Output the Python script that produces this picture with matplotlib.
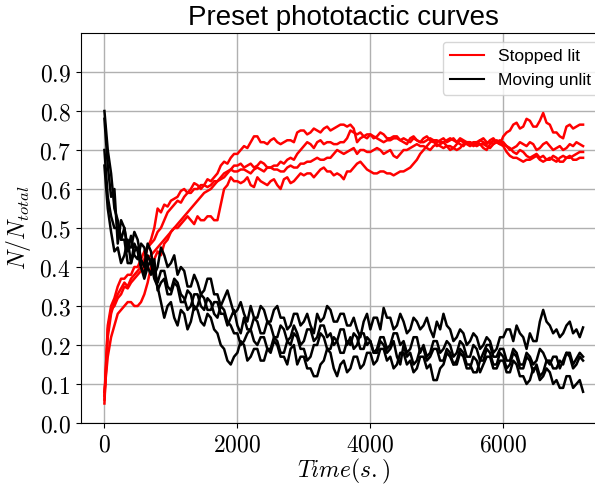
import matplotlib
matplotlib.use('Agg')
import matplotlib.pyplot as plt
from matplotlib.lines import Line2D
from matplotlib.ticker import FuncFormatter

# sample times (s), one reading every 50 s
time = list(range(0, 7201, 50))

# fraction of cells, "Stopped lit" runs (one row = 500 s)
lit_1 = [0.06, 0.22, 0.28, 0.31, 0.33, 0.345, 0.36, 0.35, 0.37, 0.38,
         0.39, 0.40, 0.42, 0.45, 0.47, 0.50, 0.55, 0.54, 0.56, 0.555,
         0.57, 0.575, 0.58, 0.595, 0.60, 0.59, 0.60, 0.615, 0.61, 0.60,
         0.61, 0.625, 0.62, 0.63, 0.64, 0.66, 0.67, 0.665, 0.68, 0.69,
         0.69, 0.70, 0.71, 0.705, 0.72, 0.735, 0.735, 0.72, 0.72, 0.715,
         0.725, 0.73, 0.72, 0.715, 0.72, 0.725, 0.725, 0.72, 0.745, 0.75,
         0.75, 0.74, 0.745, 0.755, 0.75, 0.745, 0.755, 0.76, 0.75, 0.755,
         0.76, 0.765, 0.765, 0.76, 0.765, 0.755, 0.72, 0.73, 0.735, 0.74,
         0.74, 0.73, 0.735, 0.745, 0.74, 0.73, 0.73, 0.735, 0.735, 0.725,
         0.73, 0.725, 0.72, 0.73, 0.725, 0.72, 0.73, 0.735, 0.725, 0.72,
         0.72, 0.725, 0.73, 0.72, 0.725, 0.73, 0.72, 0.715, 0.71, 0.72,
         0.72, 0.71, 0.715, 0.725, 0.72, 0.715, 0.725, 0.73, 0.72, 0.715,
         0.735, 0.745, 0.75, 0.765, 0.77, 0.755, 0.76, 0.78, 0.775, 0.76,
         0.76, 0.775, 0.795, 0.77, 0.765, 0.745, 0.745, 0.735, 0.73, 0.76,
         0.765, 0.755, 0.76, 0.765, 0.765]
lit_2 = [0.05, 0.25, 0.30, 0.32, 0.35, 0.37, 0.37, 0.38, 0.38, 0.40,
         0.40, 0.42, 0.44, 0.45, 0.46, 0.47, 0.49, 0.50, 0.52, 0.54,
         0.55, 0.56, 0.57, 0.565, 0.58, 0.59, 0.59, 0.60, 0.60, 0.61,
         0.61, 0.605, 0.61, 0.62, 0.62, 0.63, 0.64, 0.645, 0.65, 0.66,
         0.66, 0.665, 0.655, 0.66, 0.665, 0.655, 0.66, 0.67, 0.665, 0.655,
         0.655, 0.66, 0.66, 0.67, 0.665, 0.675, 0.68, 0.675, 0.69, 0.70,
         0.71, 0.72, 0.715, 0.705, 0.72, 0.725, 0.715, 0.72, 0.72, 0.715,
         0.715, 0.72, 0.72, 0.73, 0.75, 0.745, 0.74, 0.745, 0.735, 0.73,
         0.74, 0.735, 0.73, 0.725, 0.72, 0.725, 0.725, 0.73, 0.73, 0.725,
         0.72, 0.715, 0.73, 0.735, 0.725, 0.72, 0.72, 0.725, 0.73, 0.725,
         0.71, 0.715, 0.72, 0.71, 0.70, 0.705, 0.715, 0.725, 0.72, 0.715,
         0.71, 0.715, 0.72, 0.715, 0.705, 0.70, 0.715, 0.725, 0.72, 0.725,
         0.715, 0.71, 0.70, 0.705, 0.71, 0.72, 0.715, 0.71, 0.72, 0.715,
         0.70, 0.705, 0.715, 0.72, 0.71, 0.70, 0.705, 0.71, 0.70, 0.705,
         0.715, 0.71, 0.72, 0.715, 0.71]
lit_3 = [0.08, 0.17, 0.22, 0.25, 0.28, 0.29, 0.30, 0.31, 0.31, 0.30,
         0.30, 0.31, 0.33, 0.36, 0.40, 0.42, 0.44, 0.43, 0.46, 0.47,
         0.49, 0.50, 0.50, 0.51, 0.52, 0.53, 0.52, 0.51, 0.53, 0.52,
         0.52, 0.53, 0.53, 0.52, 0.52, 0.56, 0.60, 0.61, 0.63, 0.62,
         0.62, 0.615, 0.62, 0.63, 0.61, 0.605, 0.63, 0.62, 0.615, 0.61,
         0.62, 0.625, 0.61, 0.60, 0.625, 0.63, 0.615, 0.62, 0.63, 0.64,
         0.635, 0.64, 0.64, 0.63, 0.64, 0.65, 0.655, 0.645, 0.645, 0.635,
         0.64, 0.635, 0.625, 0.645, 0.645, 0.655, 0.665, 0.67, 0.66, 0.65,
         0.645, 0.64, 0.64, 0.645, 0.645, 0.64, 0.64, 0.635, 0.64, 0.645,
         0.645, 0.65, 0.655, 0.665, 0.675, 0.69, 0.70, 0.71, 0.72, 0.725,
         0.725, 0.72, 0.72, 0.725, 0.73, 0.725, 0.72, 0.73, 0.725, 0.72,
         0.715, 0.72, 0.72, 0.725, 0.73, 0.72, 0.72, 0.715, 0.725, 0.72,
         0.72, 0.71, 0.705, 0.695, 0.69, 0.70, 0.695, 0.685, 0.68, 0.685,
         0.69, 0.68, 0.685, 0.675, 0.675, 0.685, 0.68, 0.67, 0.67, 0.68,
         0.685, 0.675, 0.675, 0.68, 0.68]
lit_4 = [0.07, 0.24, 0.29, 0.30, 0.32, 0.33, 0.35, 0.345, 0.36, 0.37,
         0.38, 0.39, 0.40, 0.42, 0.43, 0.44, 0.45, 0.46, 0.47, 0.48,
         0.49, 0.50, 0.51, 0.52, 0.53, 0.54, 0.55, 0.56, 0.57, 0.58,
         0.59, 0.595, 0.60, 0.61, 0.62, 0.625, 0.63, 0.64, 0.65, 0.645,
         0.645, 0.65, 0.65, 0.645, 0.64, 0.65, 0.655, 0.65, 0.645, 0.655,
         0.655, 0.65, 0.65, 0.645, 0.645, 0.655, 0.66, 0.655, 0.655, 0.665,
         0.665, 0.67, 0.67, 0.675, 0.68, 0.675, 0.675, 0.68, 0.68, 0.69,
         0.70, 0.695, 0.69, 0.695, 0.70, 0.705, 0.69, 0.70, 0.70, 0.695,
         0.695, 0.70, 0.705, 0.70, 0.69, 0.695, 0.70, 0.685, 0.68, 0.69,
         0.70, 0.70, 0.705, 0.71, 0.715, 0.71, 0.71, 0.705, 0.70, 0.71,
         0.715, 0.71, 0.705, 0.71, 0.71, 0.705, 0.70, 0.705, 0.715, 0.72,
         0.72, 0.715, 0.71, 0.715, 0.715, 0.71, 0.705, 0.715, 0.72, 0.715,
         0.71, 0.695, 0.685, 0.68, 0.68, 0.675, 0.67, 0.675, 0.675, 0.68,
         0.685, 0.675, 0.67, 0.675, 0.68, 0.675, 0.67, 0.68, 0.685, 0.68,
         0.68, 0.685, 0.69, 0.695, 0.695]

# fraction of cells, "Moving unlit" runs
unlit_1 = [0.80, 0.70, 0.64, 0.55, 0.52, 0.47, 0.50, 0.45, 0.45, 0.49,
           0.47, 0.42, 0.40, 0.46, 0.44, 0.38, 0.40, 0.45, 0.43, 0.40,
           0.41, 0.43, 0.38, 0.40, 0.39, 0.35, 0.35, 0.38, 0.36, 0.33,
           0.34, 0.37, 0.37, 0.33, 0.33, 0.30, 0.32, 0.34, 0.31, 0.28,
           0.29, 0.31, 0.28, 0.26, 0.30, 0.27, 0.27, 0.30, 0.29, 0.26,
           0.26, 0.29, 0.30, 0.27, 0.27, 0.24, 0.25, 0.28, 0.28, 0.25,
           0.26, 0.28, 0.25, 0.23, 0.28, 0.26, 0.27, 0.30, 0.29, 0.26,
           0.26, 0.28, 0.28, 0.25, 0.25, 0.27, 0.24, 0.22, 0.26, 0.28,
           0.24, 0.27, 0.27, 0.24, 0.295, 0.27, 0.27, 0.24, 0.25, 0.28,
           0.26, 0.23, 0.24, 0.27, 0.26, 0.24, 0.25, 0.27, 0.24, 0.22,
           0.26, 0.24, 0.28, 0.25, 0.24, 0.21, 0.22, 0.24, 0.23, 0.20,
           0.21, 0.23, 0.22, 0.19, 0.20, 0.22, 0.21, 0.18, 0.19, 0.22,
           0.22, 0.24, 0.24, 0.21, 0.25, 0.23, 0.22, 0.19, 0.23, 0.21,
           0.21, 0.26, 0.29, 0.26, 0.25, 0.23, 0.24, 0.22, 0.23, 0.25,
           0.26, 0.23, 0.24, 0.22, 0.245]
unlit_2 = [0.78, 0.66, 0.58, 0.60, 0.46, 0.52, 0.50, 0.44, 0.48, 0.43,
           0.42, 0.46, 0.45, 0.40, 0.38, 0.42, 0.34, 0.36, 0.37, 0.33,
           0.33, 0.36, 0.35, 0.31, 0.31, 0.34, 0.33, 0.29, 0.30, 0.33,
           0.32, 0.29, 0.29, 0.31, 0.31, 0.28, 0.28, 0.25, 0.27, 0.29,
           0.25, 0.23, 0.27, 0.24, 0.24, 0.27, 0.26, 0.23, 0.23, 0.26,
           0.25, 0.22, 0.22, 0.25, 0.24, 0.21, 0.22, 0.25, 0.23, 0.20,
           0.21, 0.24, 0.24, 0.21, 0.22, 0.25, 0.25, 0.22, 0.23, 0.20,
           0.21, 0.24, 0.24, 0.20, 0.22, 0.19, 0.20, 0.23, 0.23, 0.20,
           0.21, 0.18, 0.19, 0.22, 0.22, 0.19, 0.20, 0.23, 0.23, 0.20,
           0.21, 0.18, 0.19, 0.22, 0.22, 0.18, 0.20, 0.17, 0.18, 0.21,
           0.21, 0.18, 0.19, 0.21, 0.20, 0.17, 0.18, 0.21, 0.20, 0.17,
           0.17, 0.20, 0.19, 0.16, 0.18, 0.20, 0.20, 0.17, 0.17, 0.19,
           0.19, 0.16, 0.16, 0.19, 0.18, 0.15, 0.15, 0.18, 0.17, 0.15,
           0.16, 0.19, 0.18, 0.16, 0.15, 0.17, 0.17, 0.14, 0.16, 0.18,
           0.18, 0.15, 0.165, 0.18, 0.17]
unlit_3 = [0.66, 0.55, 0.49, 0.44, 0.45, 0.41, 0.43, 0.47, 0.41, 0.46,
           0.44, 0.40, 0.38, 0.43, 0.41, 0.37, 0.35, 0.31, 0.27, 0.30,
           0.31, 0.27, 0.25, 0.29, 0.28, 0.24, 0.26, 0.30, 0.29, 0.26,
           0.25, 0.28, 0.27, 0.24, 0.23, 0.20, 0.19, 0.16, 0.15, 0.17,
           0.18, 0.21, 0.20, 0.16, 0.17, 0.19, 0.19, 0.16, 0.16, 0.19,
           0.18, 0.21, 0.20, 0.17, 0.17, 0.15, 0.19, 0.20, 0.15, 0.17,
           0.17, 0.14, 0.14, 0.12, 0.12, 0.15, 0.16, 0.19, 0.18, 0.14,
           0.12, 0.15, 0.16, 0.13, 0.14, 0.17, 0.17, 0.14, 0.15, 0.18,
           0.18, 0.15, 0.16, 0.19, 0.19, 0.16, 0.17, 0.14, 0.15, 0.18,
           0.18, 0.15, 0.16, 0.13, 0.14, 0.17, 0.17, 0.14, 0.15, 0.11,
           0.11, 0.14, 0.15, 0.18, 0.17, 0.15, 0.16, 0.19, 0.18, 0.15,
           0.15, 0.13, 0.13, 0.16, 0.16, 0.19, 0.18, 0.15, 0.15, 0.18,
           0.17, 0.14, 0.15, 0.18, 0.17, 0.14, 0.14, 0.17, 0.16, 0.13,
           0.15, 0.12, 0.13, 0.16, 0.16, 0.14, 0.14, 0.16, 0.15, 0.18,
           0.17, 0.14, 0.15, 0.17, 0.16]
unlit_4 = [0.70, 0.58, 0.53, 0.50, 0.50, 0.47, 0.47, 0.41, 0.41, 0.44,
           0.45, 0.40, 0.37, 0.40, 0.42, 0.39, 0.36, 0.39, 0.39, 0.35,
           0.34, 0.37, 0.36, 0.33, 0.32, 0.29, 0.30, 0.33, 0.33, 0.30,
           0.29, 0.32, 0.31, 0.28, 0.27, 0.30, 0.29, 0.26, 0.25, 0.23,
           0.23, 0.20, 0.21, 0.23, 0.24, 0.21, 0.20, 0.22, 0.22, 0.19,
           0.19, 0.22, 0.21, 0.18, 0.18, 0.21, 0.20, 0.23, 0.22, 0.19,
           0.19, 0.16, 0.17, 0.20, 0.20, 0.23, 0.22, 0.19, 0.19, 0.22,
           0.21, 0.18, 0.18, 0.21, 0.20, 0.23, 0.22, 0.19, 0.19, 0.22,
           0.21, 0.18, 0.18, 0.21, 0.20, 0.18, 0.19, 0.21, 0.17, 0.15,
           0.20, 0.17, 0.18, 0.15, 0.16, 0.19, 0.19, 0.16, 0.17, 0.19,
           0.19, 0.16, 0.16, 0.19, 0.18, 0.15, 0.15, 0.18, 0.17, 0.14,
           0.14, 0.17, 0.16, 0.13, 0.15, 0.17, 0.17, 0.14, 0.14, 0.16,
           0.16, 0.13, 0.13, 0.16, 0.15, 0.12, 0.12, 0.10, 0.11, 0.14,
           0.14, 0.11, 0.12, 0.14, 0.13, 0.10, 0.11, 0.09, 0.09, 0.12,
           0.12, 0.09, 0.10, 0.11, 0.08]

lit_runs = [lit_1, lit_2, lit_3, lit_4]
unlit_runs = [unlit_1, unlit_2, unlit_3, unlit_4]

plt.rcParams['mathtext.fontset'] = 'cm'
sans = 'Liberation Sans'

fig = plt.figure(figsize=(5.95, 4.87), dpi=100)
# axes runs a bit past the right edge, as in the cropped original
ax = fig.add_axes([80.5 / 595, 64 / 487, 526.5 / 595, 390 / 487])

for run in lit_runs:
    ax.plot(time, run, color='red', lw=1.8)
for run in unlit_runs:
    ax.plot(time, run, color='black', lw=1.8)

ax.set_ylim(0, 1.0)
ax.set_yticks([0.0, 0.1, 0.2, 0.3, 0.4, 0.5, 0.6, 0.7, 0.8, 0.9])
ax.set_xticks([0, 2000, 4000, 6000])
ax.xaxis.set_major_formatter(FuncFormatter(lambda v, p: f'${v:.0f}$'))
ax.yaxis.set_major_formatter(FuncFormatter(lambda v, p: f'${v:.1f}$'))
ax.tick_params(labelsize=17)
ax.grid(True, color='#b0b0b0', lw=1)
ax.set_axisbelow(True)

ax.set_title('Preset phototactic curves', fontsize=20, family=sans)
ax.set_xlabel('$Time(s.)$', fontsize=17, labelpad=0)
ax.set_ylabel('$N/N_{total}$', fontsize=17)

handles = [Line2D([], [], color='red', lw=1.5), Line2D([], [], color='black', lw=1.5)]
ax.legend(handles, ['Stopped lit', 'Moving unlit'], loc='upper right',
          prop={'family': sans, 'size': 12.5})

fig.savefig('out.png', dpi=100)
